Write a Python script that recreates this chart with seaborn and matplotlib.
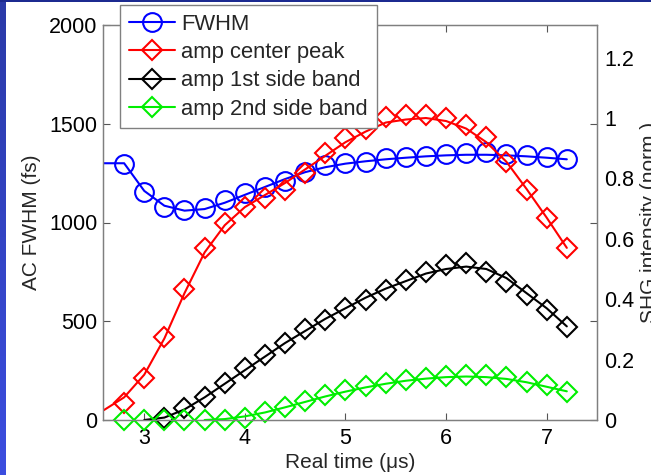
import matplotlib
matplotlib.use("Agg")
import numpy as np
import matplotlib.pyplot as plt
import seaborn as sns
from matplotlib.lines import Line2D

# ---------------- data ----------------
marker_time = [2.8, 3.0, 3.2, 3.4, 3.6, 3.8, 4.0, 4.2, 4.4, 4.6, 4.8, 5.0,
               5.2, 5.4, 5.6, 5.8, 6.0, 6.2, 6.4, 6.6, 6.8, 7.0, 7.2]
fwhm = [1295, 1154, 1078, 1063, 1073, 1114, 1149, 1180, 1210, 1256, 1291, 1301,
        1306, 1327, 1332, 1335, 1347, 1352, 1355, 1347, 1342, 1332, 1322]
amp_center = [0.056, 0.139, 0.275, 0.434, 0.570, 0.652, 0.705, 0.735, 0.762, 0.818,
              0.884, 0.934, 0.964, 1.005, 1.01, 1.01, 1.0, 0.977, 0.937, 0.854,
              0.762, 0.669, 0.570]
side1_time = [3.2, 3.4, 3.6, 3.8, 4.0, 4.2, 4.4, 4.6, 4.8, 5.0, 5.2, 5.4,
              5.6, 5.8, 6.0, 6.2, 6.4, 6.6, 6.8, 7.0, 7.2]
amp_side1 = [0.007, 0.040, 0.076, 0.123, 0.172, 0.215, 0.255, 0.301, 0.331, 0.371,
             0.397, 0.430, 0.464, 0.490, 0.512, 0.520, 0.490, 0.457, 0.414, 0.364, 0.308]
amp_side2 = [0, 0, 0, 0, 0, 0, 0.007, 0.026, 0.043, 0.063, 0.083, 0.099,
             0.113, 0.123, 0.132, 0.139, 0.146, 0.149, 0.149, 0.142, 0.126, 0.116, 0.093]

# smooth fit curves
fit_time = [2.6, 2.8, 3.0, 3.2, 3.4, 3.6, 3.8, 4.0, 4.2, 4.4, 4.6, 4.8,
            5.0, 5.2, 5.4, 5.6, 5.8, 6.0, 6.2, 6.4, 6.6, 6.8, 7.0, 7.2]
fwhm_fit = [1300, 1300, 1160, 1085, 1060, 1068, 1100, 1140, 1180, 1220, 1255, 1280,
            1298, 1310, 1320, 1328, 1335, 1340, 1343, 1343, 1340, 1335, 1328, 1320]
center_fit = [0.033, 0.075, 0.15, 0.27, 0.42, 0.555, 0.645, 0.705, 0.745, 0.785, 0.83, 0.875,
              0.92, 0.955, 0.985, 0.995, 1.0, 0.99, 0.965, 0.92, 0.855, 0.765, 0.67, 0.57]
side1_fit_time = [3.0, 3.2, 3.4, 3.6, 3.8, 4.0, 4.2, 4.4, 4.6, 4.8, 5.0, 5.2,
                  5.4, 5.6, 5.8, 6.0, 6.2, 6.4, 6.6, 6.8, 7.0, 7.2]
side1_fit = [0.0, 0.008, 0.035, 0.075, 0.12, 0.165, 0.21, 0.255, 0.295, 0.335, 0.37, 0.405,
             0.435, 0.46, 0.485, 0.5, 0.508, 0.5, 0.47, 0.42, 0.37, 0.31]
side2_fit_time = [3.6, 3.8, 4.0, 4.2, 4.4, 4.6, 4.8, 5.0, 5.2, 5.4, 5.6, 5.8,
                  6.0, 6.2, 6.4, 6.6, 6.8, 7.0, 7.2]
side2_fit = [0.0, 0.003, 0.012, 0.025, 0.042, 0.06, 0.078, 0.094, 0.108, 0.12, 0.13, 0.137,
             0.142, 0.144, 0.142, 0.136, 0.125, 0.11, 0.095]

legend_labels = ["FWHM", "amp center peak", "amp 1st side band", "amp 2nd side band"]
left_ticks = [0, 500, 1000, 1500, 2000]
right_ticks = [0, 0.2, 0.4, 0.6, 0.8, 1.0, 1.2]
right_tick_labels = ["0", "0.2", "0.4", "0.6", "0.8", "1", "1.2"]
x_ticks = [3, 4, 5, 6, 7]

# ---------------- figure ----------------
sns.set_theme(style="white")
plt.rcParams["font.family"] = ["Liberation Sans", "DejaVu Sans"]

fig = plt.figure(figsize=(6.51, 4.75), dpi=100)
fig.patch.set_facecolor("white")

# blue slide border on the left and top
bg = fig.add_axes([0, 0, 6 / 651, 1])
grad = np.linspace(0, 1, 256).reshape(-1, 1)
bg.imshow(grad, aspect="auto", cmap=matplotlib.colors.LinearSegmentedColormap.from_list(
    "b", ["#2a3aa8", "#3c4ee0"]), origin="upper")
bg.axis("off")
top = fig.add_axes([0, 1 - 2 / 475, 1, 2 / 475])
top.set_facecolor("#1c2a90")
top.set_xticks([]); top.set_yticks([])
for s in top.spines.values():
    s.set_visible(False)

ax1 = fig.add_axes([103 / 651, 55 / 475, 494 / 651, 395 / 475])
ax2 = ax1.twinx()

LW = 1.5
MEW = 1.5
MS_O = 13.5
MS_D = 10.5

# FWHM on left axis
sns.lineplot(x=fit_time, y=fwhm_fit, ax=ax1, color="blue", linewidth=LW,
             sort=False, legend=False)
sns.lineplot(x=marker_time, y=fwhm, ax=ax1, color="blue", marker="o",
             markersize=MS_O, markerfacecolor="none", markeredgecolor="blue",
             markeredgewidth=MEW, linestyle="none", sort=False, legend=False,
             clip_on=False)

# amplitudes on right axis
series = [
    (fit_time, center_fit, marker_time, amp_center, "red"),
    (side1_fit_time, side1_fit, side1_time, amp_side1, "black"),
    (side2_fit_time, side2_fit, marker_time, amp_side2, "#00ee00"),
]
for ft, fv, mt, mv, col in series:
    sns.lineplot(x=ft, y=fv, ax=ax2, color=col, linewidth=LW, sort=False, legend=False)
    sns.lineplot(x=mt, y=mv, ax=ax2, color=col, marker="D", markersize=MS_D,
                 markerfacecolor="none", markeredgecolor=col, markeredgewidth=MEW,
                 linestyle="none", sort=False, legend=False, clip_on=False)

# axes styling
ax1.set_xlim(2.59, 7.5)
ax1.set_ylim(0, 2000)
ax2.set_ylim(0, 1.308)
ax1.set_xticks(x_ticks)
ax1.set_xticklabels([str(t) for t in x_ticks])
ax1.set_yticks(left_ticks)
ax1.set_yticklabels([str(t) for t in left_ticks])
ax2.set_yticks(right_ticks)
ax2.set_yticklabels(right_tick_labels)

for ax in (ax1, ax2):
    ax.grid(False)
    for s in ax.spines.values():
        s.set_color("#7f7f7f")
        s.set_linewidth(0.9)
ax1.tick_params(axis="both", direction="in", length=5, width=0.8, color="#555555",
                labelsize=15.5, labelcolor="black", top=True, right=True,
                bottom=True, left=True)
ax1.tick_params(axis="x", pad=6)
ax1.tick_params(axis="y", pad=4)
ax2.tick_params(axis="y", length=0, labelsize=15.5, pad=5, labelcolor="black")

ax1.set_xlabel("Real time (μs)", fontsize=15, labelpad=3)
ax1.set_ylabel("AC FWHM (fs)", fontsize=15, labelpad=6)
ax2.set_ylabel("SHG intensity (norm.)", fontsize=15, labelpad=4)

handles = [
    Line2D([], [], color="blue", marker="o", markersize=MS_O, markerfacecolor="none",
           markeredgewidth=MEW, linewidth=LW),
    Line2D([], [], color="red", marker="D", markersize=MS_D, markerfacecolor="none",
           markeredgewidth=MEW, linewidth=LW),
    Line2D([], [], color="black", marker="D", markersize=MS_D, markerfacecolor="none",
           markeredgewidth=MEW, linewidth=LW),
    Line2D([], [], color="#00ee00", marker="D", markersize=MS_D, markerfacecolor="none",
           markeredgewidth=MEW, linewidth=LW),
]
leg = ax2.legend(handles, legend_labels, loc="upper left",
                 bbox_to_anchor=(120 / 651, 1 - 5 / 475), bbox_transform=fig.transFigure,
                 borderaxespad=0, fontsize=15.8, frameon=True, fancybox=False,
                 edgecolor="#808080", framealpha=1, handlelength=2.1,
                 handletextpad=0.3, labelspacing=0.33, borderpad=0.4)
leg.get_frame().set_linewidth(1.0)

fig.savefig("out.png", dpi=100)
